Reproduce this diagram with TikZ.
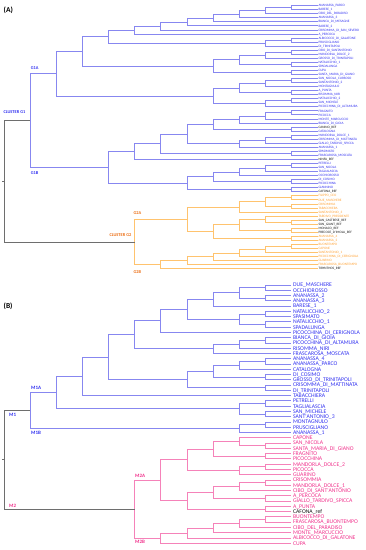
\documentclass[tikz,border=0pt]{standalone}
\usepackage{fontspec}
\usetikzlibrary{calc}
\newfontfamily\cf{Carlito}
\definecolor{tb}{RGB}{50,50,240}
\definecolor{tk}{RGB}{20,20,20}
\definecolor{to}{RGB}{255,160,50}
\definecolor{tp}{RGB}{240,50,140}
\definecolor{go}{RGB}{235,110,20}
\definecolor{lineblue}{RGB}{135,135,240}
\definecolor{lineorange}{RGB}{255,195,110}
\definecolor{linepink}{RGB}{245,130,185}
\definecolor{linegray}{RGB}{110,110,110}
\newcommand\labfontA{\cf\fontsize{3.4pt}{3.4pt}\selectfont}
\newcommand\labfontB{\cf\fontsize{5.7pt}{5.7pt}\selectfont}
\newcommand\grpfont{\cf\bfseries\fontsize{4.4pt}{4.4pt}\selectfont}
\newcommand\grpfontB{\cf\bfseries\fontsize{5pt}{5pt}\selectfont}
\newcommand\jnode[5]{%
  \path let \p1=(#4), \p2=(#5) in ({#3pt},{0.5*\y1+0.5*\y2}) coordinate (#2);
  \draw[#1] (#2) |- (#4) (#2) |- (#5);}
\tikzset{
  bl/.style={draw=lineblue,line width=0.9pt},
  orl/.style={draw=lineorange,line width=0.9pt},
  pkl/.style={draw=linepink,line width=0.9pt},
  gyl/.style={draw=linegray,line width=0.9pt},
  lfA/.style={anchor=west,inner xsep=0.8pt,inner ysep=0pt,font=\labfontA,text height=2.2pt,text depth=0pt},
  lfB/.style={anchor=west,inner xsep=1.5pt,inner ysep=0pt,font=\labfontB,text height=3.67pt,text depth=0pt},
  grp/.style={anchor=west,inner sep=0pt,font=\grpfont},
  grpB/.style={anchor=west,inner sep=0pt,font=\grpfontB},
  panel/.style={anchor=west,inner sep=0pt,font=\cf\bfseries\fontsize{7.5pt}{7.5pt}\selectfont}
}
\begin{document}
\begin{tikzpicture}[x=1pt,y=-1pt]
\useasboundingbox (0,0) rectangle (365,550);
% ---------------- panel A ----------------
\node[panel] (pA) at (3.5,10) {(A)};
\foreach \lab/\col [count=\i from 0] in {
ANANASSA\_PARCO/tb, BARESE\_1/tb, CIBO\_DEL\_PARADISO/tb, ANANASSA\_3/tb, BIANCA\_DI\_MESAGNE/tb,
BARESE\_2/tb, CRISOMMA\_DI\_SAN\_SEVERO/tb, A\_PERCOCA/tb, ALBICOCCO\_DI\_GALATONE/tb, PRUSCIGLIANO/tb,
DI\_TRINITAPOLI/tb, CIBO\_DI\_SANTANTONIO/tb, MANDORLA\_DOLCE\_2/tb, GROSSO\_DI\_TRINITAPOLI/tb, NATALICCHIO\_1/tb,
SPADALUNGA/tb, CUPA/tb, SANTA\_MARIA\_DI\_GIANO/tb, SAN\_NICOLA\_CURSOSO/tb, SANTANTONIO\_2/tb,
MONTAGNULO/tb, A\_PUNTA/tb, RISOMMA\_NIRI/tb, NATALICCHIO\_2/tb, SAN\_MICHELE/tb,
PICOCCHINA\_DI\_ALTAMURA/tb, FRAGNITO/tb, PICOCCA/tb, MONTE\_MARCUCCIO/tb, BIANCA\_DI\_GIOIA/tb,
CANINO\_REF/tk, CATALOGNA/tb, MANDORLA\_DOLCE\_1/tb, CRISOMMA\_DI\_MATTINATA/tb, GIALLO\_TARDIVO\_SPICCA/tb,
ANANASSA\_1/tb, SPASIMATO/tb, FRASCAROSA\_MOSCATA/tb, NINFA\_REF/tk, PETRELLI/tb,
SAN\_NICOLA/tb, TAGLIALASCIA/tb, OCCHIOROSSO/tb, DI\_COSIMO/tb, PICOCCHINA/tb,
GIANNINO/tb, CAFONA\_REF/tk, FILIPPO\_CEO/to, DUE\_MASCHERE/to, CRISOMMIA/to,
TABACCHIERA/to, SANTANTONIO\_3/to, TARDIVO\_PRESIDENTE/to, SAN\_CASTRESE\_REF/tk, SUN\_GIANT\_REF/tk,
MONACO\_REF/tk, PRECOCE\_D'IMOLA\_REF/tk, ANANASSA\_4/to, ANANASSA\_2/to, BUONTEMPO/to,
CAPONE/to, SANTANTONIO\_1/to, PICOCCHINA\_DI\_CERIGNOLA/to, GUARINO/to, FRASCAROSA\_BUONTEMPO/to,
TIRYNTHOS\_REF/tk}
  \node[lfA,text=\col] (a\i) at (317.5,{5.7+4.046*\i}) {\lab};
% G1A
\jnode{bl}{p1}{291.4}{a0.west}{a1.west}
\jnode{bl}{p2}{265.3}{p1}{a2.west}
\jnode{bl}{p3}{239.2}{p2}{a3.west}
\jnode{bl}{p4}{213.1}{p3}{a4.west}
\jnode{bl}{p5}{187}{p4}{a5.west}
\jnode{bl}{p6}{160.9}{p5}{a6.west}
\jnode{bl}{p7}{134.8}{p6}{a7.west}
\jnode{bl}{q1}{291.4}{a8.west}{a9.west}
\jnode{bl}{q2}{265.3}{q1}{a10.west}
\jnode{bl}{p8}{108.7}{p7}{q2}
\jnode{bl}{r1}{291.4}{a11.west}{a12.west}
\jnode{bl}{r2}{265.3}{r1}{a13.west}
\jnode{bl}{r3}{291.4}{a14.west}{a15.west}
\jnode{bl}{r4}{239.2}{r2}{r3}
\jnode{bl}{r5}{291.4}{a16.west}{a17.west}
\jnode{bl}{r6}{213.1}{r4}{r5}
\jnode{bl}{p9}{82.6}{p8}{r6}
\jnode{bl}{s1}{291.4}{a18.west}{a19.west}
\jnode{bl}{s2}{265.3}{s1}{a20.west}
\jnode{bl}{s3}{291.4}{a21.west}{a22.west}
\jnode{bl}{s4}{239.2}{s2}{s3}
\jnode{bl}{s5}{291.4}{a23.west}{a24.west}
\jnode{bl}{s6}{265.3}{s5}{a25.west}
\jnode{bl}{s7}{213.1}{s4}{s6}
\jnode{bl}{g1a}{56.5}{p9}{s7}
% G1B
\jnode{bl}{t1}{291.4}{a26.west}{a27.west}
\jnode{bl}{t2}{265.3}{t1}{a28.west}
\jnode{bl}{t3}{239.2}{t2}{a29.west}
\jnode{bl}{t4}{291.4}{a30.west}{a31.west}
\jnode{bl}{t5}{213.1}{t3}{t4}
\jnode{bl}{t6}{291.4}{a32.west}{a33.west}
\jnode{bl}{t7}{265.3}{t6}{a34.west}
\jnode{bl}{t8}{239.2}{t7}{a35.west}
\jnode{bl}{t9}{187}{t5}{t8}
\jnode{bl}{t10}{291.4}{a36.west}{a37.west}
\jnode{bl}{t11}{160.9}{t9}{t10}
\jnode{bl}{t12}{134.8}{t11}{a38.west}
\jnode{bl}{u1}{291.4}{a39.west}{a40.west}
\jnode{bl}{u2}{265.3}{u1}{a41.west}
\jnode{bl}{u3}{239.2}{u2}{a42.west}
\jnode{bl}{u4}{291.4}{a43.west}{a44.west}
\jnode{bl}{u5}{213.1}{u3}{u4}
\jnode{bl}{u6}{291.4}{a45.west}{a46.west}
\jnode{bl}{u7}{187}{u5}{u6}
\jnode{bl}{g1b}{108.7}{t12}{u7}
\jnode{bl}{g1}{30.4}{g1a}{g1b}
% G2
\jnode{orl}{v1}{291.4}{a47.west}{a48.west}
\jnode{orl}{v2}{291.4}{a49.west}{a50.west}
\jnode{orl}{v3}{265.3}{v1}{v2}
\jnode{orl}{v4}{239.2}{v3}{a51.west}
\jnode{orl}{v5}{291.4}{a53.west}{a54.west}
\jnode{orl}{v6}{265.3}{a52.west}{v5}
\jnode{orl}{v7}{291.4}{a55.west}{a56.west}
\jnode{orl}{v8}{239.2}{v6}{v7}
\jnode{orl}{v9}{291.4}{a57.west}{a58.west}
\jnode{orl}{v10}{213.1}{v8}{v9}
\jnode{orl}{g2a}{187}{v4}{v10}
\jnode{orl}{w1}{291.4}{a59.west}{a60.west}
\jnode{orl}{w2}{265.3}{w1}{a61.west}
\jnode{orl}{w3}{239.2}{w2}{a62.west}
\jnode{orl}{w4}{213.1}{w3}{a63.west}
\jnode{orl}{w5}{187}{w4}{a64.west}
\jnode{orl}{g2b}{160.9}{w5}{a65.west}
\jnode{orl}{g2}{134.8}{g2a}{g2b}
\jnode{gyl}{rA}{4.3}{g1}{g2}
\path (rA) ++(-2.3,0) coordinate (tA);
\draw[gyl] (rA) -- (tA);
\node[grp,text=tb] (cg1) at (3.3,111.7) {CLUSTER G1};
\node[grp,text=tb] (lg1a) at (30.7,68.3) {G1A};
\node[grp,text=tb] (lg1b) at (30.7,173.3) {G1B};
\node[grp,text=go] (cg2) at (109.3,235) {CLUSTER G2};
\node[grp,text=go] (lg2a) at (133.3,213.3) {G2A};
\node[grp,text=go] (lg2b) at (133.3,272) {G2B};
% ---------------- panel B ----------------
\node[panel] (pB) at (3.5,306) {(B)};
\foreach \lab/\col [count=\i from 0] in {
DUE\_MASCHERE/tb, OCCHIOROSSO/tb, ANANASSA\_2/tb, ANANASSA\_3/tb, BARESE\_1/tb,
NATALICCHIO\_2/tb, SPASIMATO/tb, NATALICCHIO\_1/tb, SPADALUNGA/tb, PICOCCHINA\_DI\_CERIGNOLA/tb,
BIANCA\_DI\_GIOIA/tb, PICOCCHINA\_DI\_ALTAMURA/tb, RISOMMA\_NIRI/tb, FRASCAROSA\_MOSCATA/tb, ANANASSA\_4/tb,
ANANASSA\_PARCO/tb, CATALOGNA/tb, DI\_COSIMO/tb, GROSSO\_DI\_TRINITAPOLI/tb, CRISOMMA\_DI\_MATTINATA/tb,
DI\_TRINITAPOLI/tb, TABACCHIERA/tb, PETRELLI/tb, TAGLIALASCIA/tb, SAN\_MICHELE/tb,
SANT'ANTONIO\_3/tb, MONTAGNULO/tb, PRUSCIGLIANO/tb, ANANASSA\_1/tb, CAPONE/tp,
SAN\_NICOLA/tp, SANTA\_MARIA\_DI\_GIANO/tp, FRAGNITO/tp, PICOCCHINA/tp, MANDORLA\_DOLCE\_2/tp,
PICOCCA/tp, GUARINO/tp, CRISOMMIA/tp, MANDORLA\_DOLCE\_1/tp, CIBO\_DI\_SANT'ANTONIO/tp,
A\_PERCOCA/tp, GIALLO\_TARDIVO\_SPICCA/tp, A\_PUNTA/tp, CAFONA\_ref/tk, BUONTEMPO/tp,
FRASCAROSA\_BUONTEMPO/tp, CIBO\_DEL\_PARADISO/tp, MONTE\_MARCUCCIO/tp, ALBICOCCO\_DI\_GALATONE/tp, CUPA/tp}
  \node[lfB,text=\col] (b\i) at (291.4,{285+5.27*\i}) {\lab};
% M1
\jnode{bl}{c1}{265.3}{b0.west}{b1.west}
\jnode{bl}{c2}{265.3}{b2.west}{b3.west}
\jnode{bl}{c3}{239.2}{c1}{c2}
\jnode{bl}{c4}{213.1}{c3}{b4.west}
\jnode{bl}{c5}{265.3}{b5.west}{b6.west}
\jnode{bl}{c6}{265.3}{b7.west}{b8.west}
\jnode{bl}{c7}{239.2}{c5}{c6}
\jnode{bl}{c8}{187}{c4}{c7}
\jnode{bl}{c9}{160.9}{c8}{b9.west}
\jnode{bl}{d1}{265.3}{b10.west}{b11.west}
\jnode{bl}{d2}{239.2}{d1}{b12.west}
\jnode{bl}{d3}{213.1}{d2}{b13.west}
\jnode{bl}{c10}{134.8}{c9}{d3}
\jnode{bl}{e1}{265.3}{b14.west}{b15.west}
\jnode{bl}{e2}{239.2}{e1}{b16.west}
\jnode{bl}{e3}{265.3}{b17.west}{b18.west}
\jnode{bl}{e4}{213.1}{e2}{e3}
\jnode{bl}{e5}{265.3}{b19.west}{b20.west}
\jnode{bl}{e6}{187}{e4}{e5}
\jnode{bl}{c11}{108.7}{c10}{e6}
\jnode{bl}{c12}{82.6}{c11}{b21.west}
\jnode{bl}{f1}{265.3}{b22.west}{b23.west}
\jnode{bl}{f2}{265.3}{b24.west}{b25.west}
\jnode{bl}{f3}{239.2}{f1}{f2}
\jnode{bl}{m1a}{56.5}{c12}{f3}
\jnode{bl}{f4}{265.3}{b26.west}{b27.west}
\jnode{bl}{m1b}{239.2}{f4}{b28.west}
\jnode{bl}{m1}{30.4}{m1a}{m1b}
% M2
\jnode{pkl}{k1}{265.3}{b30.west}{b31.west}
\jnode{pkl}{k2}{239.2}{b29.west}{k1}
\jnode{pkl}{k3}{265.3}{b32.west}{b33.west}
\jnode{pkl}{k4}{213.1}{k2}{k3}
\jnode{pkl}{k5}{265.3}{b34.west}{b35.west}
\jnode{pkl}{k6}{239.2}{k5}{b36.west}
\jnode{pkl}{k7}{187}{k4}{k6}
\jnode{pkl}{k8}{265.3}{b37.west}{b38.west}
\jnode{pkl}{k9}{239.2}{k8}{b39.west}
\jnode{pkl}{k10}{265.3}{b40.west}{b41.west}
\jnode{pkl}{k11}{213.1}{k9}{k10}
\jnode{pkl}{k12}{265.3}{b42.west}{b43.west}
\jnode{pkl}{k13}{187}{k11}{k12}
\jnode{pkl}{m2a}{160.9}{k7}{k13}
\jnode{pkl}{n1}{265.3}{b44.west}{b45.west}
\jnode{pkl}{n2}{239.2}{n1}{b46.west}
\jnode{pkl}{n3}{213.1}{n2}{b47.west}
\jnode{pkl}{n4}{187}{n3}{b48.west}
\jnode{pkl}{m2b}{160.9}{n4}{b49.west}
\jnode{pkl}{m2}{134.8}{m2a}{m2b}
\jnode{gyl}{rB}{4.3}{m1}{m2}
\path (rB) ++(-2.3,0) coordinate (tB);
\draw[gyl] (rB) -- (tB);
\node[grpB,text=tb] (lm1) at (9,415) {M1};
\node[grpB,text=tb] (lm1a) at (31,388.3) {M1A};
\node[grpB,text=tb] (lm1b) at (31,432.7) {M1B};
\node[grpB,text=tp] (lm2) at (9,506) {M2};
\node[grpB,text=tp] (lm2a) at (135,476) {M2A};
\node[grpB,text=tp] (lm2b) at (135,541.7) {M2B};
\end{tikzpicture}
\end{document}
